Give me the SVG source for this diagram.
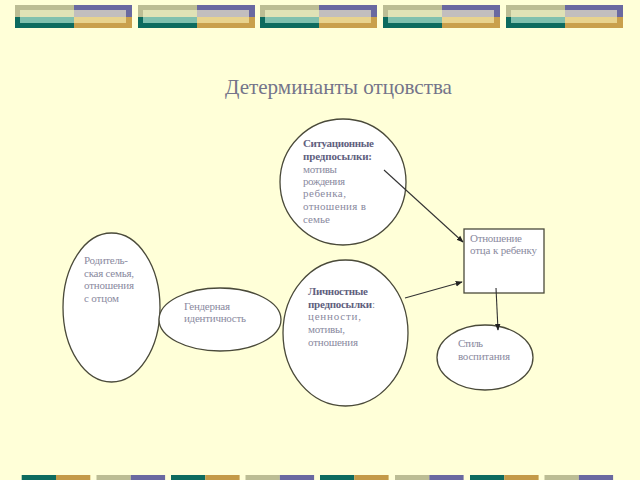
<svg xmlns="http://www.w3.org/2000/svg" width="640" height="480" viewBox="0 0 640 480">
<defs>
<style>
.bg{fill:#FFFFD8}
.node{fill:#FFFFFF;stroke:#4A4A3A;stroke-width:1.3}
.t{font-family:"Liberation Serif","Times New Roman",serif;font-size:11px;fill:#8A8AA0}
.b{font-weight:bold;fill:#60607E}
.title{font-family:"Liberation Serif","Times New Roman",serif;font-size:21px;fill:#74748A}
.conn{stroke:#333333;stroke-width:1.1;fill:none;marker-end:url(#arr)}
</style>
<marker id="arr" viewBox="0 0 10 10" refX="9" refY="5" markerWidth="7" markerHeight="7" orient="auto" markerUnits="userSpaceOnUse">
<path d="M0,1 L10,5 L0,9 z" fill="#222222"/>
</marker>
<g id="topbar">
<rect x="0" y="5" width="59" height="12" fill="#BCBD94"/>
<rect x="0" y="17" width="59" height="11" fill="#0D6B5F"/>
<rect x="5" y="10" width="54" height="7" fill="#E0E2B6"/>
<rect x="5" y="17" width="54" height="6" fill="#80C0AE"/>
<rect x="59" y="5" width="58" height="12" fill="#6A69A0"/>
<rect x="59" y="17" width="58" height="11" fill="#C9A04C"/>
<rect x="59" y="10" width="52" height="7" fill="#C2BEBE"/>
<rect x="59" y="17" width="52" height="6" fill="#E8D38E"/>
</g>
<g id="botA">
<rect x="0" y="475" width="34.3" height="5" fill="#0D6B5F"/>
<rect x="34.3" y="475" width="34.3" height="5" fill="#C49A48"/>
</g>
<g id="botB">
<rect x="0" y="475" width="34.3" height="5" fill="#BCBD94"/>
<rect x="34.3" y="475" width="34.3" height="5" fill="#6A69A0"/>
</g>
</defs>
<rect class="bg" x="0" y="0" width="640" height="480"/>
<g id="decor">
<use href="#topbar" x="15"/>
<use href="#topbar" x="138"/>
<use href="#topbar" x="260"/>
<use href="#topbar" x="383"/>
<use href="#topbar" x="506"/>
<use href="#botA" x="21.7"/>
<use href="#botB" x="96.5"/>
<use href="#botA" x="171"/>
<use href="#botB" x="245.5"/>
<use href="#botA" x="320"/>
<use href="#botB" x="395"/>
<use href="#botA" x="470"/>
<use href="#botB" x="544.5"/>
</g>
<text class="title" x="225" y="94" textLength="227" lengthAdjust="spacingAndGlyphs">Детерминанты отцовства</text>
<g id="situational">
<ellipse class="node" cx="343" cy="182" rx="63" ry="63"/>
<text class="t b" x="303" y="147" textLength="71" lengthAdjust="spacing">Ситуационные</text>
<text class="t b" x="303" y="160" textLength="69" lengthAdjust="spacing">предпосылки:</text>
<text class="t" x="303" y="173" textLength="34" lengthAdjust="spacing">мотивы</text>
<text class="t" x="303" y="185" textLength="42" lengthAdjust="spacing">рождения</text>
<text class="t" x="303" y="197" textLength="43" lengthAdjust="spacing">ребенка,</text>
<text class="t" x="303" y="210" textLength="63" lengthAdjust="spacing">отношения в</text>
<text class="t" x="303" y="223" textLength="27" lengthAdjust="spacing">семье</text>
</g>
<g id="parent">
<ellipse class="node" cx="111.5" cy="307.5" rx="48.5" ry="74.5"/>
<text class="t" x="84" y="264" textLength="44" lengthAdjust="spacing">Родитель-</text>
<text class="t" x="84" y="277" textLength="50" lengthAdjust="spacing">ская семья,</text>
<text class="t" x="84" y="289" textLength="50" lengthAdjust="spacing">отношения</text>
<text class="t" x="84" y="302" textLength="35" lengthAdjust="spacing">с отцом</text>
</g>
<g id="gender">
<ellipse class="node" cx="220" cy="319.5" rx="61" ry="31.5"/>
<text class="t" x="184" y="310" textLength="46" lengthAdjust="spacing">Гендерная</text>
<text class="t" x="184" y="322" textLength="62" lengthAdjust="spacing">идентичность</text>
</g>
<g id="personal">
<ellipse class="node" cx="345.5" cy="333" rx="62.5" ry="73"/>
<text class="t b" x="308" y="295" textLength="60" lengthAdjust="spacing">Личностные</text>
<text class="t" x="308" y="308" textLength="67" lengthAdjust="spacing"><tspan class="b">предпосылки</tspan>:</text>
<text class="t" x="308" y="320" textLength="53" lengthAdjust="spacing">ценности,</text>
<text class="t" x="308" y="333" textLength="37" lengthAdjust="spacing">мотивы,</text>
<text class="t" x="308" y="346" textLength="50" lengthAdjust="spacing">отношения</text>
</g>
<g id="relation">
<rect class="node" x="464" y="229" width="80" height="64"/>
<text class="t" x="470" y="242" textLength="52" lengthAdjust="spacing">Отношение</text>
<text class="t" x="470" y="254" textLength="67" lengthAdjust="spacing">отца к ребенку</text>
</g>
<g id="style">
<ellipse class="node" cx="485" cy="357.5" rx="48" ry="32.5"/>
<text class="t" x="458" y="347" textLength="25" lengthAdjust="spacing">Стиль</text>
<text class="t" x="458" y="360" textLength="52" lengthAdjust="spacing">воспитания</text>
</g>
<g id="connectors">
<line class="conn" x1="384" y1="170" x2="463" y2="242"/>
<line class="conn" x1="405" y1="298" x2="462" y2="282"/>
<line class="conn" x1="496" y1="288" x2="498" y2="330"/>
</g>
</svg>
